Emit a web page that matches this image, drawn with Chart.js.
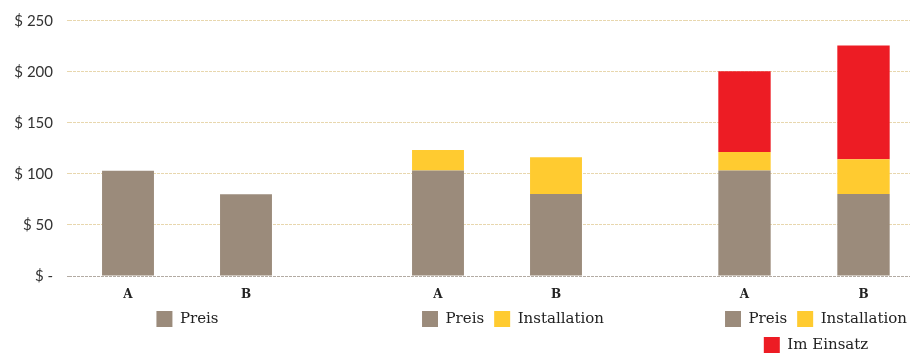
<!DOCTYPE html>
<html>
<head>
<meta charset="utf-8">
<script src="https://cdn.jsdelivr.net/npm/chart.js@4.4.1/dist/chart.umd.min.js"></script>
<style>
  html, body { margin: 0; padding: 0; background: #fff; width: 910px; height: 353px; overflow: hidden; }
  .box { position: absolute; top: 0; }
</style>
</head>
<body>
<div class="box" style="left:0;width:305px;height:337px"><canvas id="chart1"></canvas></div>
<div class="box" style="left:305px;width:310px;height:337px"><canvas id="chart2"></canvas></div>
<div class="box" style="left:615px;width:308px;height:363px"><canvas id="chart3"></canvas></div>
<script>
// data
var categories = ['A', 'B'];
var preis = [103, 80];
var installation2 = [20, 36];
var installation3 = [18, 34];
var imEinsatz3 = [79, 111];
var yTicks = [0, 50, 100, 150, 200, 250];

var colPreis = '#9b8b7b';
var colInst = '#ffcb30';
var colEinsatz = '#ed1c24';

// nudge the legend sideways after layout
var legendShift = {
        id: 'legendShift',
        afterLayout: function(chart, args, opts) {
                chart.legend.left += opts.dx;
                chart.legend.right += opts.dx;
        }
};

function gridColor(c) {
        return c.tick && c.tick.value === 0 ? '#b3aba3' : '#e8d7ae';
}

function makeChart(id, datasets, axisWidth, tickLen, showLabels, dx) {
        var ctx = document.getElementById(id).getContext('2d');
        return new Chart(ctx, {
                type: 'bar',
                data: { labels: categories, datasets: datasets },
                plugins: [legendShift],
                options: {
                        responsive: true,
                        maintainAspectRatio: false,
                        animation: false,
                        layout: { padding: { top: 20, left: 0, right: 0, bottom: 0 } },
                        datasets: { bar: { categoryPercentage: 1, barPercentage: 0.44 } },
                        scales: {
                                x: {
                                        stacked: true,
                                        afterFit: function(axis) { axis.height = 25; },
                                        grid: { display: false, drawTicks: false },
                                        border: { display: false },
                                        ticks: { padding: 12, color: '#222', font: { family: 'DejaVu Serif', size: 12, weight: 'bold' } }
                                },
                                y: {
                                        stacked: true,
                                        min: 0,
                                        max: 250,
                                        z: 1,
                                        afterBuildTicks: function(axis) {
                                                axis.ticks = yTicks.map(function(v) { return { value: v }; });
                                        },
                                        afterFit: function(axis) { axis.width = axisWidth; },
                                        border: { display: false, dash: [3, 1] },
                                        grid: {
                                                color: gridColor,
                                                lineWidth: 1,
                                                drawTicks: true,
                                                tickLength: tickLen,
                                                tickBorderDash: [3, 1]
                                        },
                                        ticks: {
                                                display: showLabels,
                                                padding: 14,
                                                color: '#333',
                                                font: { family: 'Lato', size: 15, lineHeight: 0.9 },
                                                callback: function(v) { return v === 0 ? '$ -' : '$ ' + v; }
                                        }
                                }
                        },
                        plugins: {
                                legendShift: { dx: dx },
                                tooltip: { enabled: false },
                                legend: {
                                        position: 'bottom',
                                        labels: {
                                                boxWidth: 16,
                                                boxHeight: 16,
                                                padding: 10,
                                                color: '#222',
                                                font: { family: 'DejaVu Serif', size: 15 }
                                        }
                                }
                        }
                }
        });
}

makeChart('chart1', [
        { label: 'Preis', data: preis, backgroundColor: colPreis }
], 69, 2, true, 35);

makeChart('chart2', [
        { label: 'Preis', data: preis, backgroundColor: colPreis },
        { label: 'Installation', data: installation2, backgroundColor: colInst }
], 74, 74, false, 53);

makeChart('chart3', [
        { label: 'Preis', data: preis, backgroundColor: colPreis },
        { label: 'Installation', data: installation3, backgroundColor: colInst },
        { label: 'Im Einsatz', data: imEinsatz3, backgroundColor: colEinsatz }
], 70, 70, false, 47);
</script>
</body>
</html>
